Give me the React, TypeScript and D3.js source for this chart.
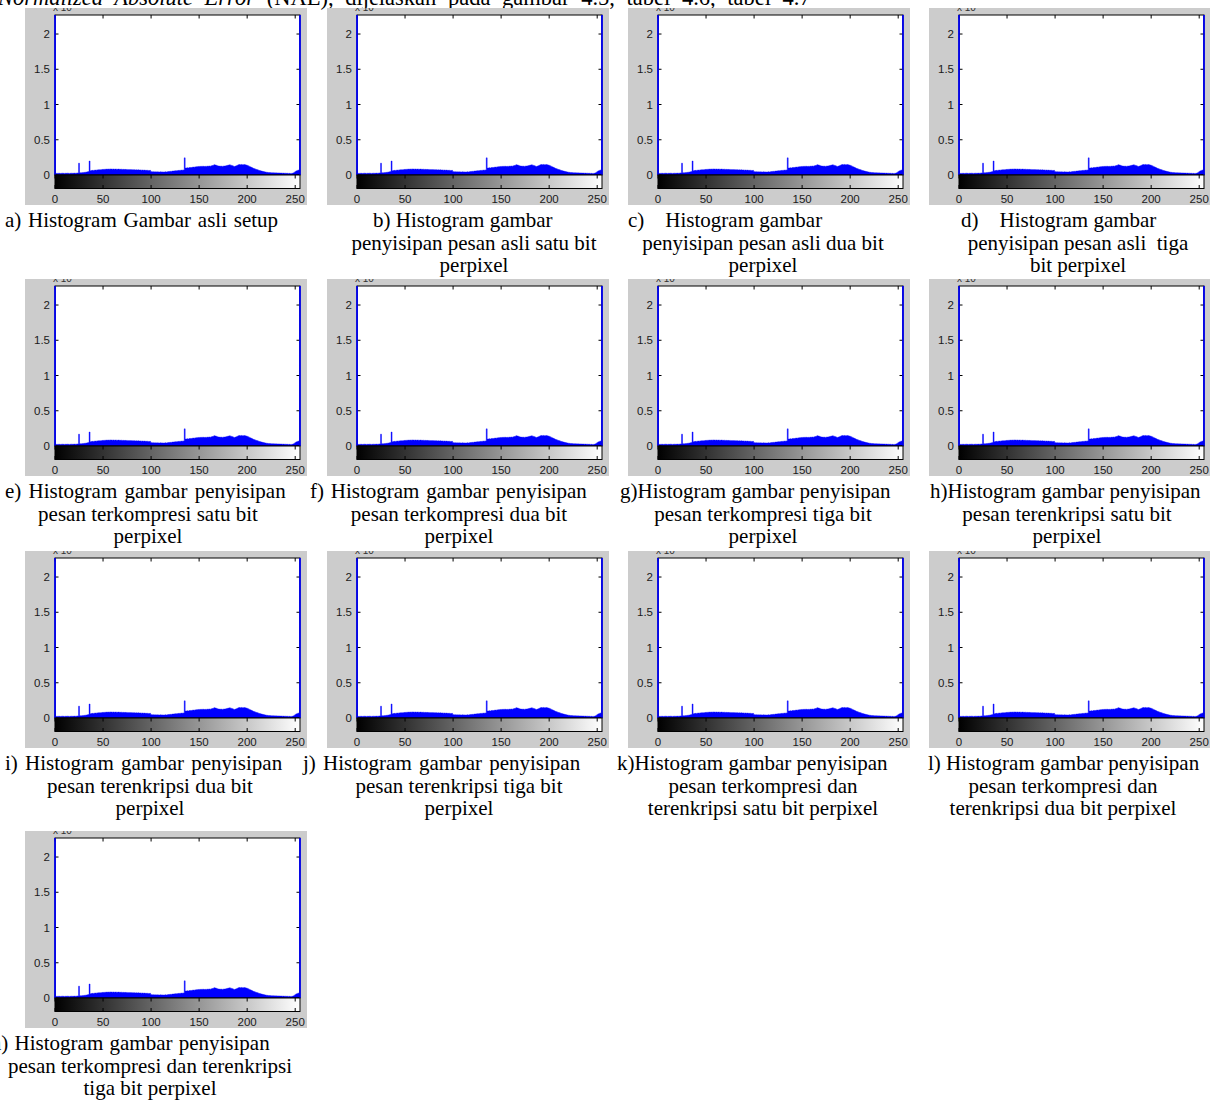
import React from 'react';
import * as d3 from 'd3';

// ---- data (histogram counts, in units of 10^4 pixels) ----
const HIST: number[] = [
  5.0, 0.022, 0.024, 0.023, 0.025, 0.024, 0.022, 0.025, 0.026, 0.024, 0.023, 0.025, 0.024, 0.026, 0.025, 0.023,
  0.024, 0.026, 0.025, 0.024, 0.027, 0.025, 0.026, 0.028, 0.030, 0.168, 0.031, 0.033, 0.032, 0.035, 0.036, 0.038,
  0.040, 0.042, 0.045, 0.048, 0.198, 0.062, 0.064, 0.066, 0.065, 0.068, 0.070, 0.069, 0.072, 0.074, 0.073, 0.076,
  0.075, 0.078, 0.080, 0.079, 0.082, 0.081, 0.084, 0.082, 0.085, 0.083, 0.086, 0.084, 0.083, 0.085, 0.082, 0.084,
  0.083, 0.081, 0.084, 0.082, 0.080, 0.083, 0.079, 0.081, 0.078, 0.080, 0.077, 0.079, 0.076, 0.078, 0.075, 0.077,
  0.074, 0.076, 0.073, 0.075, 0.072, 0.074, 0.071, 0.073, 0.070, 0.072, 0.069, 0.071, 0.068, 0.070, 0.067, 0.066,
  0.068, 0.065, 0.064, 0.066, 0.048, 0.046, 0.045, 0.047, 0.044, 0.046, 0.043, 0.045, 0.044, 0.042, 0.045, 0.043,
  0.044, 0.042, 0.043, 0.045, 0.044, 0.046, 0.048, 0.050, 0.052, 0.051, 0.055, 0.057, 0.056, 0.060, 0.062, 0.061,
  0.064, 0.066, 0.065, 0.068, 0.070, 0.069, 0.072, 0.243, 0.098, 0.100, 0.103, 0.101, 0.105, 0.107, 0.106, 0.110,
  0.112, 0.111, 0.115, 0.118, 0.116, 0.120, 0.122, 0.119, 0.124, 0.121, 0.125, 0.123, 0.120, 0.124, 0.122, 0.126,
  0.124, 0.128, 0.125, 0.130, 0.135, 0.140, 0.145, 0.142, 0.138, 0.133, 0.128, 0.126, 0.124, 0.127, 0.122, 0.125,
  0.128, 0.126, 0.130, 0.134, 0.138, 0.142, 0.144, 0.140, 0.136, 0.130, 0.124, 0.121, 0.126, 0.132, 0.138, 0.144,
  0.148, 0.146, 0.150, 0.147, 0.145, 0.149, 0.146, 0.142, 0.138, 0.132, 0.125, 0.118, 0.112, 0.105, 0.098, 0.092,
  0.087, 0.082, 0.078, 0.073, 0.068, 0.064, 0.060, 0.056, 0.052, 0.049, 0.046, 0.043, 0.040, 0.038, 0.036, 0.035,
  0.034, 0.033, 0.032, 0.031, 0.032, 0.030, 0.031, 0.029, 0.030, 0.028, 0.029, 0.027, 0.028, 0.026, 0.027, 0.025,
  0.026, 0.024, 0.025, 0.023, 0.024, 0.022, 0.023, 0.024, 0.028, 0.035, 0.045, 0.055, 0.062, 0.068, 0.072, 5.0,
];

const X_TICKS = [0, 50, 100, 150, 200, 250];
const X_TICK_LABELS = ['0', '50', '100', '150', '200', '250'];
const Y_TICKS = [0, 0.5, 1, 1.5, 2];
const Y_TICK_LABELS = ['0', '0.5', '1', '1.5', '2'];
const X_DOMAIN = [0, 255];
const Y_DOMAIN = [0, 2.27];

const HEADER_ITALIC = 'Normalized Absolute Error';
const HEADER_REST = ' (NAE), dijelaskan pada gambar 4.5, tabel 4.6, tabel 4.7';

const CAPTIONS: string[][] = [
  ['a) Histogram Gambar asli setup'],
  ['b) Histogram gambar', 'penyisipan pesan asli satu bit', 'perpixel'],
  ['c)    Histogram gambar', 'penyisipan pesan asli dua bit', 'perpixel'],
  ['d)    Histogram gambar', 'penyisipan pesan asli  tiga', 'bit perpixel'],
  ['e) Histogram gambar penyisipan', 'pesan terkompresi satu bit', 'perpixel'],
  ['f) Histogram gambar penyisipan', 'pesan terkompresi dua bit', 'perpixel'],
  ['g)Histogram gambar penyisipan', 'pesan terkompresi tiga bit', 'perpixel'],
  ['h)Histogram gambar penyisipan', 'pesan terenkripsi satu bit', 'perpixel'],
  ['i) Histogram gambar penyisipan', 'pesan terenkripsi dua bit', 'perpixel'],
  ['j) Histogram gambar penyisipan', 'pesan terenkripsi tiga bit', 'perpixel'],
  ['k)Histogram gambar penyisipan', 'pesan terkompresi dan', 'terenkripsi satu bit perpixel'],
  ['l) Histogram gambar penyisipan', 'pesan terkompresi dan', 'terenkripsi dua bit perpixel'],
  ['m) Histogram gambar penyisipan', 'pesan terkompresi dan terenkripsi', 'tiga bit perpixel'],
];

// ---- layout ----
const W = 1210;
const H = 1101;
const COL_LEFTS = [55, 357, 658, 959];
const ROW_TOPS = [15, 286, 558, 838];
const PLOT_W = 245;
const PLOT_H = 160;
const CBAR_H = 13.5;
const CAP_X1 = [5, 373, 628, 961, 5, 310, 620, 930, 5, 303, 617, 928, -15];
const CAP_CX = [146, 474, 763, 1078, 148, 459, 763, 1067, 150, 459, 763, 1063, 150];
const CAP_WS = [1.5, 0, 0, 0, 2, 1.5, 0, 0, 2, 2, 0, 0, 1];
const CAP_FONT = '"Liberation Serif", "Times New Roman", serif';
const AX_FONT = '"Liberation Sans", Arial, Helvetica, sans-serif';
const BLUE = '#0000ff';

function Panel({ idx }: { idx: number }) {
  const col = idx % 4;
  const row = Math.floor(idx / 4);
  const left = COL_LEFTS[col];
  const top = ROW_TOPS[row];
  const x = d3.scaleLinear().domain(X_DOMAIN).range([left, left + PLOT_W]);
  const y = d3.scaleLinear().domain(Y_DOMAIN).range([top + PLOT_H, top]);
  const y0 = y(0);
  const cbTop = y0;
  const cbBot = y0 + CBAR_H;
  const gradId = `grad${idx}`;
  const clipId = `clip${idx}`;
  const tk = 3.5;
  const lines = CAPTIONS[idx];
  const area = d3
    .area<number>()
    .x((_, i) => x(i))
    .y0(y0)
    .y1((v) => y(Math.min(v, Y_DOMAIN[1])))
    .curve(d3.curveStep);
  return (
    <g>
      <defs>
        <linearGradient id={gradId} x1="0" x2="1" y1="0" y2="0">
          <stop offset="0" stopColor="#000" />
          <stop offset="1" stopColor="#fff" />
        </linearGradient>
        <clipPath id={clipId}>
          <rect x={left - 30} y={top - 7} width={282} height={197} />
        </clipPath>
      </defs>
      <rect x={left - 30} y={top - 7} width={282} height={197} fill="#cccccc" />
      <text
        x={left - 2}
        y={top - 4}
        fontFamily={AX_FONT}
        fontSize={10}
        fill="#333"
        clipPath={`url(#${clipId})`}
      >
        x 10<tspan dy={-4} fontSize={8}>4</tspan>
      </text>
      <rect x={left} y={top} width={PLOT_W} height={PLOT_H} fill="#fff" />
      <path d={area(HIST) || ''} fill={BLUE} stroke={BLUE} strokeWidth={0.4} />
      {/* axes box */}
      <rect x={left} y={top} width={PLOT_W} height={PLOT_H} fill="none" stroke="#000" strokeWidth={1} />
      {X_TICKS.map((t) => (
        <line key={`xt${t}`} x1={x(t)} x2={x(t)} y1={top} y2={top + tk} stroke="#000" />
      ))}
      {Y_TICKS.map((t) => (
        <g key={`yt${t}`}>
          <line x1={left} x2={left + tk} y1={y(t)} y2={y(t)} stroke="#000" />
          <line x1={left + PLOT_W - tk} x2={left + PLOT_W} y1={y(t)} y2={y(t)} stroke="#000" />
        </g>
      ))}
      {/* blue edge bins (0 and 255) drawn over the box edges */}
      <line x1={x(0)} x2={x(0)} y1={y(Math.min(HIST[0], Y_DOMAIN[1]))} y2={y0} stroke={BLUE} strokeWidth={1.6} />
      <line x1={x(255)} x2={x(255)} y1={y(Math.min(HIST[255], Y_DOMAIN[1]))} y2={y0} stroke={BLUE} strokeWidth={1.6} />
      {Y_TICKS.map((t, i) => (
        <text
          key={`yl${t}`}
          x={left - 5}
          y={y(t) + 4}
          textAnchor="end"
          fontFamily={AX_FONT}
          fontSize={11.5}
          fill="#1a1a1a"
        >
          {Y_TICK_LABELS[i]}
        </text>
      ))}
      {/* colorbar */}
      <rect x={left} y={cbTop} width={PLOT_W} height={CBAR_H} fill={`url(#${gradId})`} stroke="#000" strokeWidth={1} />
      {X_TICKS.map((t) => (
        <g key={`cb${t}`}>
          <line x1={x(t)} x2={x(t)} y1={cbTop} y2={cbTop + tk} stroke="#000" />
          <line x1={x(t)} x2={x(t)} y1={cbBot - tk} y2={cbBot} stroke="#000" />
        </g>
      ))}
      {X_TICKS.map((t, i) => (
        <text
          key={`xl${t}`}
          x={x(t)}
          y={top + 188}
          textAnchor="middle"
          fontFamily={AX_FONT}
          fontSize={11.5}
          fill="#1a1a1a"
        >
          {X_TICK_LABELS[i]}
        </text>
      ))}
      {/* caption */}
      {lines.map((ln, k) => (
        <text
          key={`cap${k}`}
          x={k === 0 ? CAP_X1[idx] : CAP_CX[idx]}
          y={top + 212 + k * 22.5}
          textAnchor={k === 0 ? 'start' : 'middle'}
          fontFamily={CAP_FONT}
          fontSize={21}
          fill="#000"
          wordSpacing={k === 0 ? CAP_WS[idx] : 0}
          style={{ whiteSpace: 'pre' }}
        >
          {ln}
        </text>
      ))}
    </g>
  );
}

export default function App() {
  return (
    <div style={{ position: 'absolute', left: 0, top: 0, width: W, height: H, background: '#fff' }}>
      <svg width={W} height={H} viewBox={`0 0 ${W} ${H}`} style={{ display: 'block' }}>
        <rect x={0} y={0} width={W} height={H} fill="#fff" />
        <text x={-2} y={5} fontFamily={CAP_FONT} fontSize={22.5} fill="#000" wordSpacing={6} style={{ whiteSpace: 'pre' }}>
          <tspan fontStyle="italic">{HEADER_ITALIC}</tspan>
          <tspan>{HEADER_REST}</tspan>
        </text>
        {CAPTIONS.map((_, i) => (
          <Panel key={i} idx={i} />
        ))}
      </svg>
    </div>
  );
}
